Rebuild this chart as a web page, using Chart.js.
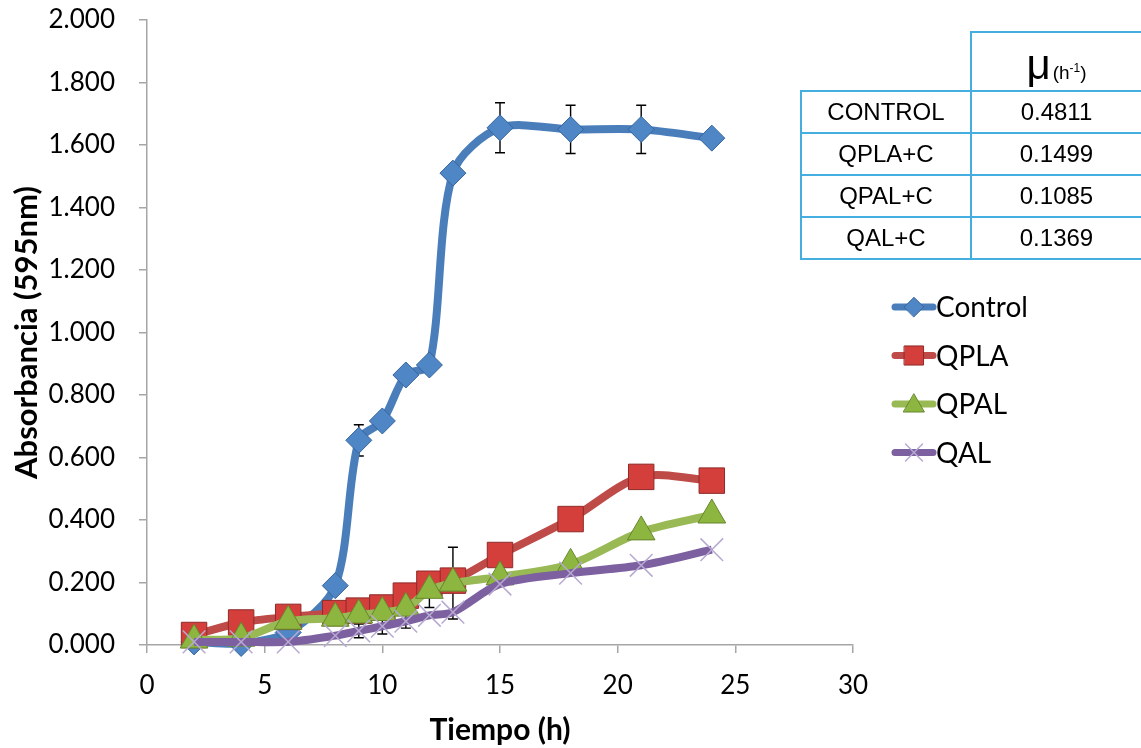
<!DOCTYPE html>
<html>
<head>
<meta charset="utf-8">
<script src="https://cdn.jsdelivr.net/npm/chart.js@4.4.1/dist/chart.umd.min.js"></script>
<style>
  html, body { margin: 0; padding: 0; background: #fff; }
  #wrap { position: relative; width: 1141px; height: 748px; overflow: hidden; }
  #growth { position: absolute; left: 0; top: 0; }
  #muTable {
    position: absolute; left: 800px; top: 31px;
    border-collapse: collapse; table-layout: fixed;
    font-family: "Liberation Sans", Arial, sans-serif; font-size: 24px; color: #000;
  }
  #muTable td { border: 2px solid #45aee0; border-right: none; text-align: center; padding: 0; height: 40px; }
  #muTable td.blank { border-top: none; border-left: none; }
  #muTable tr.head td { height: 51px; padding-top: 6px; }
  #muTable .mu { font-size: 42px; line-height: 40px; }
  #muTable .unit { font-size: 19px; margin-left: 2px; }
  #muTable sup { font-size: 12px; }
</style>
</head>
<body>
<div id="wrap">
  <canvas id="growth" width="1141" height="748"></canvas>
  <table id="muTable">
    <colgroup><col style="width:171px"><col style="width:172px"></colgroup>
    <tbody></tbody>
  </table>
</div>
<script>
// Sampling times (h)
const hours = [2, 4, 6, 8, 9, 10, 11, 12, 13, 15, 18, 21, 24];

// Absorbance at 595 nm for each culture
const control = [0.010, 0.005, 0.040, 0.190, 0.655, 0.717, 0.864, 0.896, 1.510, 1.655, 1.650, 1.650, 1.622];
const qpla    = [0.032, 0.072, 0.090, 0.102, 0.110, 0.120, 0.158, 0.196, 0.206, 0.288, 0.403, 0.538, 0.526];
const qpal    = [0.016, 0.022, 0.076, 0.086, 0.096, 0.104, 0.118, 0.175, 0.198, 0.218, 0.258, 0.362, 0.416];
const qal     = [0.010, 0.010, 0.010, 0.030, 0.045, 0.060, 0.076, 0.095, 0.105, 0.195, 0.230, 0.255, 0.305];

// Standard deviations (null where no bar is shown)
const controlErr = [null, null, null, null, 0.050, null, null, null, null, 0.080, 0.077, 0.077, null];
const qplaErr    = [null, null, null, null, null, null, null, null, null, null, null, null, null];
const qpalErr    = [null, null, null, null, null, null, null, 0.055, 0.115, null, null, null, null];
const qalErr     = [null, null, null, null, 0.022, 0.025, 0.022, null, null, null, null, null, null];

// Specific growth rate table
const muLabels = ['CONTROL', 'QPLA+C', 'QPAL+C', 'QAL+C'];
const muValues = ['0.4811', '0.1499', '0.1085', '0.1369'];

// Axis ticks
const xTicks = [0, 5, 10, 15, 20, 25, 30];
const yTicks = [0, 0.2, 0.4, 0.6, 0.8, 1.0, 1.2, 1.4, 1.6, 1.8, 2.0];

const toPoints = arr => hours.map((h, i) => ({ x: h, y: arr[i] }));

// Build the growth-rate table
const tbody = document.querySelector('#muTable tbody');
tbody.innerHTML = '<tr class="head"><td class="blank"></td><td><span class="mu">&mu;</span><span class="unit">(h<sup>-1</sup>)</span></td></tr>' +
  muLabels.map((l, i) => '<tr><td>' + l + '</td><td>' + muValues[i] + '</td></tr>').join('');

// Vertical error bars, drawn beneath the markers
const errorBars = {
  id: 'errorBars',
  beforeDatasetsDraw(chart) {
    const { ctx, scales: { x, y } } = chart;
    ctx.save();
    ctx.strokeStyle = '#000';
    ctx.lineWidth = 1.4;
    chart.data.datasets.forEach(ds => {
      const errs = ds.errValues;
      if (!errs) return;
      ds.data.forEach((p, i) => {
        const e = errs[i];
        if (e == null) return;
        const px = x.getPixelForValue(p.x);
        const top = y.getPixelForValue(p.y + e);
        const bot = y.getPixelForValue(p.y - e);
        ctx.beginPath();
        ctx.moveTo(px, top); ctx.lineTo(px, bot);
        ctx.moveTo(px - 5, top); ctx.lineTo(px + 5, top);
        ctx.moveTo(px - 5, bot); ctx.lineTo(px + 5, bot);
        ctx.stroke();
      });
    });
    ctx.restore();
  }
};

// Legend at the right: line sample with marker, then series name
const sideLegend = {
  id: 'sideLegend',
  afterDraw(chart) {
    const ctx = chart.ctx;
    const x0 = 895, x1 = 933, top = 307, gap = 48.5;
    chart.data.datasets.forEach((ds, i) => {
      const y = top + i * gap;
      ctx.save();
      ctx.strokeStyle = ds.borderColor;
      ctx.lineWidth = 7;
      ctx.lineCap = 'round';
      ctx.beginPath(); ctx.moveTo(x0, y); ctx.lineTo(x1, y); ctx.stroke();
      ctx.fillStyle = ds.pointBackgroundColor;
      ctx.strokeStyle = ds.pointBorderColor;
      ctx.lineWidth = ds.pointBorderWidth;
      Chart.helpers.drawPoint(ctx, {
        pointStyle: ds.pointStyle, rotation: 0,
        radius: ds.pointRadius * 0.75, borderWidth: ds.pointBorderWidth
      }, (x0 + x1) / 2, ds.pointStyle === 'triangle' ? y + 2 : y);
      ctx.fillStyle = '#000';
      ctx.font = '28px Lato';
      ctx.textBaseline = 'middle';
      ctx.textAlign = 'left';
      ctx.fillText(ds.label, 936, y + 1);
      ctx.restore();
    });
  }
};

const axisGrey = '#a6a6a6';

new Chart(document.getElementById('growth'), {
  type: 'line',
  data: {
    datasets: [
      {
        label: 'Control', data: toPoints(control), errValues: controlErr, order: 3,
        borderColor: '#4a7ebb', borderWidth: 8, tension: 0.3,
        pointStyle: 'rectRot', pointRadius: 13, pointBackgroundColor: '#4f86c6',
        pointBorderColor: '#36649c', pointBorderWidth: 1
      },
      {
        label: 'QPLA', data: toPoints(qpla), errValues: qplaErr, order: 2,
        borderColor: '#be4b48', borderWidth: 8, tension: 0.3,
        pointStyle: 'rect', pointRadius: 18, pointBackgroundColor: '#d43f3c',
        pointBorderColor: '#8e2b29', pointBorderWidth: 1
      },
      {
        label: 'QPAL', data: toPoints(qpal), errValues: qpalErr, order: 1,
        borderColor: '#98b954', borderWidth: 8, tension: 0.3,
        pointStyle: 'triangle', pointRadius: 16, pointBackgroundColor: '#8db640',
        pointBorderColor: '#66862c', pointBorderWidth: 1
      },
      {
        label: 'QAL', data: toPoints(qal), errValues: qalErr, order: 0,
        borderColor: '#7d60a0', borderWidth: 8, tension: 0.3,
        pointStyle: 'crossRot', pointRadius: 16, pointBackgroundColor: '#b7a9d2',
        pointBorderColor: '#b7a9d2', pointBorderWidth: 1.5
      }
    ]
  },
  options: {
    responsive: false,
    animation: false,
    devicePixelRatio: 1,
    clip: false,
    layout: { padding: { left: 0, top: 0, right: 288, bottom: 0 } },
    plugins: { legend: { display: false }, tooltip: { enabled: false } },
    elements: { point: { hoverRadius: 0 } },
    scales: {
      x: {
        type: 'linear', min: 0, max: 30,
        afterBuildTicks: s => { s.ticks = xTicks.map(v => ({ value: v })); },
        afterFit: s => { s.height = 103; },
        grid: { drawOnChartArea: false, drawTicks: true, tickLength: 8, color: axisGrey, lineWidth: 1.5 },
        border: { color: axisGrey, width: 1.5 },
        ticks: { color: '#000', font: { family: 'Lato', size: 26 }, padding: 17, maxRotation: 0 },
        title: { display: true, text: 'Tiempo (h)', color: '#000', font: { family: 'Lato', size: 30, weight: 'bold' }, padding: { top: 0, bottom: 0 } }
      },
      y: {
        min: 0, max: 2,
        afterBuildTicks: s => { s.ticks = yTicks.map(v => ({ value: v })); },
        afterFit: s => { s.width = 147; s.paddingTop = 20; s.paddingBottom = 0; },
        grid: { drawOnChartArea: false, drawTicks: true, tickLength: 8, color: axisGrey, lineWidth: 1.5 },
        border: { color: axisGrey, width: 1.5 },
        ticks: { color: '#000', font: { family: 'Lato', size: 26 }, padding: 24, callback: v => Number(v).toFixed(3) },
        title: { display: true, text: 'Absorbancia (595nm)', color: '#000', font: { family: 'Lato', size: 31, weight: 'bold' }, padding: { top: 8, bottom: 0 } }
      }
    }
  },
  plugins: [errorBars, sideLegend]
});
</script>
</body>
</html>
